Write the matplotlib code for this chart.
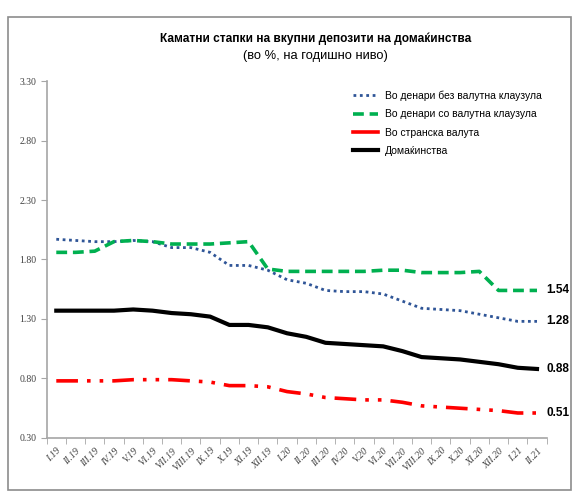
import matplotlib
matplotlib.use("Agg")
import numpy as np
from matplotlib import pyplot as plt
from matplotlib.patches import Rectangle
from matplotlib.lines import Line2D
from matplotlib import font_manager

months = ['I.19', 'II.19', 'III.19', 'IV.19', 'V.19', 'VI.19', 'VII.19', 'VIII.19',
          'IX.19', 'X.19', 'XI.19', 'XII.19', 'I.20', 'II.20', 'III.20', 'IV.20',
          'V.20', 'VI.20', 'VII.20', 'VIII.20', 'IX.20', 'X.20', 'XI.20', 'XII.20',
          'I.21', 'II.21']

bez_klauzula = [1.97, 1.96, 1.95, 1.95, 1.96, 1.95, 1.90, 1.90, 1.86, 1.75, 1.75, 1.71,
                1.63, 1.60, 1.54, 1.53, 1.53, 1.51, 1.45, 1.39, 1.38, 1.37, 1.34, 1.31,
                1.28, 1.28]
so_klauzula = [1.86, 1.86, 1.87, 1.95, 1.96, 1.95, 1.93, 1.93, 1.93, 1.94, 1.95, 1.72,
               1.70, 1.70, 1.70, 1.70, 1.70, 1.71, 1.71, 1.69, 1.69, 1.69, 1.70, 1.54,
               1.54, 1.54]
stranska = [0.78, 0.78, 0.78, 0.78, 0.79, 0.79, 0.79, 0.78, 0.77, 0.74, 0.74, 0.73,
            0.69, 0.67, 0.64, 0.63, 0.62, 0.62, 0.60, 0.57, 0.56, 0.55, 0.54, 0.53,
            0.51, 0.51]
domakinstva = [1.37, 1.37, 1.37, 1.37, 1.38, 1.37, 1.35, 1.34, 1.32, 1.25, 1.25, 1.23,
               1.18, 1.15, 1.10, 1.09, 1.08, 1.07, 1.03, 0.98, 0.97, 0.96, 0.94, 0.92,
               0.89, 0.88]

names = ['Во денари без валутна клаузула', 'Во денари со валутна клаузула',
         'Во странска валута', 'Домаќинства']
end_labels = ['1.28', '1.54', '0.51', '0.88']
yticks = [0.30, 0.80, 1.30, 1.80, 2.30, 2.80, 3.30]

# narrow sans if the system has one, else plain Liberation Sans
narrow = 'Liberation Sans'
for f in font_manager.fontManager.ttflist:
    if f.name in ('Liberation Sans Narrow', 'DejaVu Sans Condensed'):
        narrow = f.name
        break
plt.rcParams['font.family'] = [narrow, 'Liberation Sans', 'DejaVu Sans']

fig = plt.figure(figsize=(5.72, 4.94), dpi=100)
ax = fig.add_axes([0.0816, 0.1134, 0.874, 0.7226])

x = np.arange(len(months))
blue = ax.plot(x, bez_klauzula, color='#2f5597', lw=2.0, ls=(0, (1, 1.3)))[0]
green = ax.plot(x, so_klauzula, color='#00b050', lw=2.6, ls=(0, (3, 1.6)))[0]
ax.plot(x, stranska, color='#ff0000', lw=2.6, ls=(0, (6, 2.5, 1, 2.5, 1, 2.5)))
black = ax.plot(x, domakinstva, color='black', lw=3.0)[0]
red_proxy = Line2D([], [], color='#ff0000', lw=2.6)

series = [bez_klauzula, so_klauzula, stranska, domakinstva]
for s, lab in zip(series, end_labels):
    ax.annotate(lab, (x[-1], s[-1]), xytext=(6.5, 0), textcoords='offset points',
                va='center', ha='left', fontsize=8.5, fontweight='bold')

ax.set_xlim(-0.5, len(months) - 0.5)
ax.set_ylim(0.30, 3.30)
ax.set_yticks(yticks)
ax.set_yticklabels(['%.2f' % v for v in yticks], family='Liberation Serif',
                   fontsize=7, color='#404040')
ax.set_xticks(x)
ax.set_xticklabels(months, rotation=45, ha='right', rotation_mode='anchor',
                   family='Liberation Serif', style='italic', fontsize=7, color='#404040')
ax.set_xticks(np.arange(-0.5, len(months)), minor=True)
ax.tick_params(axis='x', which='major', length=0, pad=6)
ax.tick_params(axis='x', which='minor', length=4, color='#a6a6a6')
ax.tick_params(axis='y', length=4, color='#a6a6a6')
for side in ['top', 'right']:
    ax.spines[side].set_visible(False)
for side in ['left', 'bottom']:
    ax.spines[side].set_color('#a6a6a6')
    ax.spines[side].set_linewidth(1.2)

small = 8.0 if narrow == 'Liberation Sans' else 8.6
ax.legend([blue, green, red_proxy, black], names, loc='upper left',
          bbox_to_anchor=(0.605, 0.985), frameon=False, fontsize=small * 0.93,
          handlelength=2.4, handletextpad=0.7, labelspacing=0.8, borderaxespad=0.0)

fig.text(0.551, 0.922, 'Каматни стапки на вкупни депозити на домаќинства',
         ha='center', va='center', fontsize=small + 0.6, fontweight='bold')
fig.text(0.551, 0.887, '(во %, на годишно ниво)', ha='center', va='center', fontsize=9.3)

fig.patches.append(Rectangle((0.014, 0.008), 0.984, 0.958, transform=fig.transFigure,
                             fill=False, edgecolor='#8c8c8c', lw=1.2))

fig.savefig('out.png', dpi=100)
